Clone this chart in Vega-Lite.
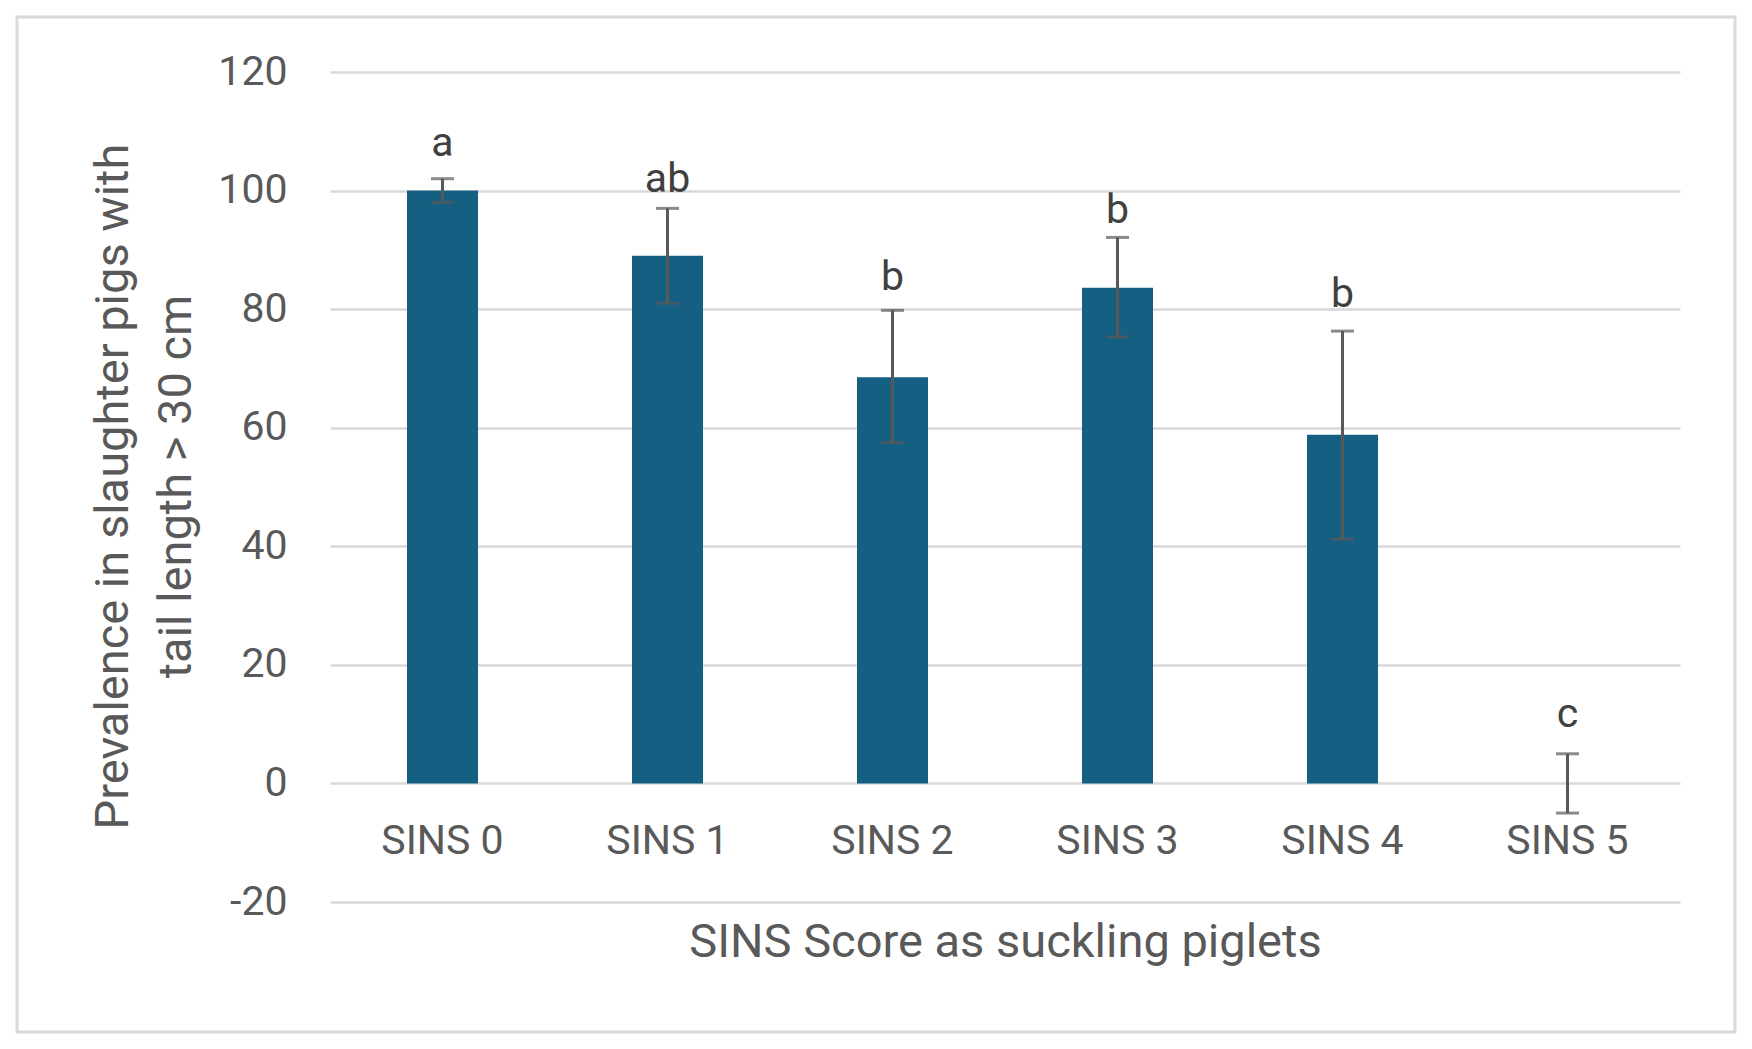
{
  "$schema": "https://vega.github.io/schema/vega-lite/v6.json",
  "width": 1718,
  "height": 1015,
  "autosize": {"type": "none"},
  "padding": {"left": 17, "top": 17, "right": 17, "bottom": 17},
  "background": "white",
  "data": {
    "values": [
      {"score": "SINS 0", "prevalence": 100, "lo": 98, "hi": 102, "letter": "a", "letter_y": 105.9},
      {"score": "SINS 1", "prevalence": 89, "lo": 81, "hi": 97, "letter": "ab", "letter_y": 99.8},
      {"score": "SINS 2", "prevalence": 68.5, "lo": 57.5, "hi": 79.8, "letter": "b", "letter_y": 83.3},
      {"score": "SINS 3", "prevalence": 83.6, "lo": 75.3, "hi": 92.1, "letter": "b", "letter_y": 94.6},
      {"score": "SINS 4", "prevalence": 58.8, "lo": 41.2, "hi": 76.3, "letter": "b", "letter_y": 80.3},
      {"score": "SINS 5", "prevalence": 0, "lo": -5, "hi": 5, "letter": "c", "letter_y": 9.6}
    ]
  },
  "encoding": {
    "x": {
      "field": "score",
      "type": "nominal",
      "sort": null,
      "title": "SINS Score as suckling piglets",
      "scale": {"range": [313, 1663], "paddingInner": 0, "paddingOuter": 0},
      "axis": {
        "domain": false,
        "ticks": false,
        "tickSize": 0,
        "labelAngle": 0,
        "offset": -179,
        "labelPadding": 0,
        "labelBaseline": "alphabetic",
        "labelFont": "Roboto",
        "labelFontSize": 41,
        "labelColor": "#595959",
        "titleFont": "Roboto",
        "titleFontSize": 47,
        "titleFontWeight": "normal",
        "titleColor": "#595959",
        "titleBaseline": "alphabetic",
        "titleY": 103,
        "grid": false
      }
    }
  },
  "layer": [
    {
      "mark": {"type": "bar", "width": 71, "color": "#156082"},
      "encoding": {
        "y": {
          "field": "prevalence",
          "type": "quantitative",
          "title": ["Prevalence in slaughter pigs with", "tail length > 30 cm"],
          "scale": {"domain": [-20, 120], "range": [885, 55], "zero": false, "nice": false},
          "axis": {
            "values": [-20, 0, 20, 40, 60, 80, 100, 120],
            "labelExpr": "replace(datum.label, '\u2212', '-')",
            "domain": false,
            "ticks": false,
            "offset": -280,
            "labelPadding": 10,
            "labelFont": "Roboto",
            "labelFontSize": 41,
            "labelColor": "#595959",
            "grid": true,
            "gridColor": "#d9d9d9",
            "gridWidth": 2.5,
            "titleFont": "Roboto",
            "titleFontSize": 47,
            "titleFontWeight": "normal",
            "titleColor": "#595959",
            "titleLineHeight": 63,
            "titleBaseline": "middle",
            "titleX": -184,
            "titleY": 469
          }
        }
      }
    },
    {
      "mark": {"type": "rule", "color": "#595959", "strokeWidth": 3},
      "encoding": {
        "y": {"field": "lo", "type": "quantitative"},
        "y2": {"field": "hi"}
      }
    },
    {
      "mark": {"type": "tick", "color": "#595959", "size": 23, "thickness": 3},
      "encoding": {"y": {"field": "lo", "type": "quantitative"}}
    },
    {
      "mark": {"type": "tick", "color": "#595959", "size": 23, "thickness": 3},
      "encoding": {"y": {"field": "hi", "type": "quantitative"}}
    },
    {
      "mark": {"type": "text", "font": "Roboto", "fontSize": 41, "color": "#404040", "baseline": "alphabetic"},
      "encoding": {
        "y": {"field": "letter_y", "type": "quantitative"},
        "text": {"field": "letter"}
      }
    }
  ],
  "config": {
    "view": {"stroke": "#d9d9d9", "strokeWidth": 3}
  }
}
